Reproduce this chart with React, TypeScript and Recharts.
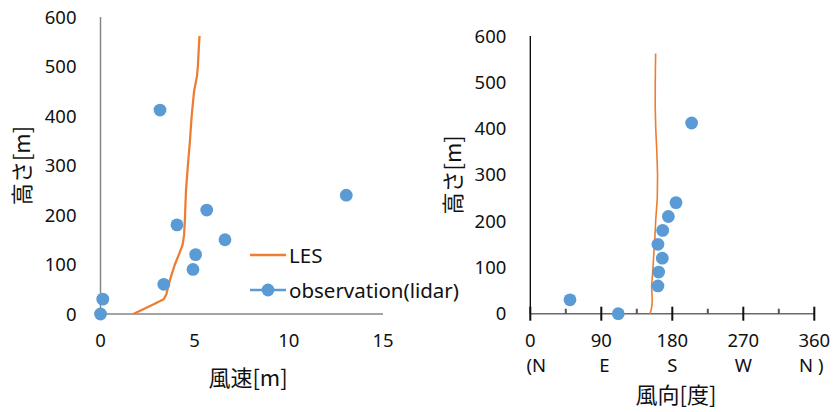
import { ScatterChart, Scatter, XAxis, YAxis, Legend } from "recharts"

const FONT = "'Noto Sans', 'Noto Sans CJK JP', sans-serif"
const JP_FONT = "'Noto Sans CJK JP', 'Noto Sans', sans-serif"
const ORANGE = "#ED7D31"
const BLUE = "#5B9BD5"

// LES profile (model output)
const lesHeight = [0, 10, 20, 30, 40, 60, 80, 100, 120, 140, 160, 200, 250, 300, 350, 400, 450, 480, 500, 530, 562]
const lesSpeed = [1.74, 2.3, 2.85, 3.36, 3.5, 3.62, 3.78, 3.95, 4.16, 4.36, 4.44, 4.49, 4.54, 4.64, 4.75, 4.84, 4.97, 5.12, 5.17, 5.21, 5.26]
const lesDir = [151.7, 153.5, 154.3, 154.6, 154.3, 153.8, 154.7, 155.6, 156.2, 157, 157.8, 158.9, 161, 161.3, 160.4, 159, 158.3, 158.4, 158.4, 158.6, 158.9]

// lidar observation
const obsHeight = [0, 30, 60, 90, 120, 150, 180, 210, 240, 412]
const obsSpeed = [0, 0.12, 3.36, 4.91, 5.05, 6.61, 4.06, 5.64, 13.05, 3.16]
const obsDir = [111.5, 50.3, 161.8, 162.7, 167.3, 161.8, 167.8, 175, 184.7, 204.5]

const heightTicks = [0, 100, 200, 300, 400, 500, 600]
const speedTicks = [0, 5, 10, 15]
const dirTicks = [0, 45, 90, 135, 180, 225, 270, 315, 360]
const dirNames: Record<number, string> = { 0: "(N", 90: "E", 180: "S", 270: "W", 360: "N )" }

const lesSpeedData = lesHeight.map((h, i) => ({ x: lesSpeed[i], y: h }))
const obsSpeedData = obsHeight.map((h, i) => ({ x: obsSpeed[i], y: h }))
const lesDirData = lesHeight.map((h, i) => ({ x: lesDir[i], y: h }))
const obsDirData = obsHeight.map((h, i) => ({ x: obsDir[i], y: h }))

const tickStyle = { fontSize: 18.5, fill: "#111", fontFamily: FONT }

const dot = (p: any) => <circle cx={p.cx} cy={p.cy} r={6.4} fill={BLUE} />
const noDot = () => <g />

const yTitle = (x: number) => (props: any) => {
  const vb = props.viewBox
  const cy = vb.y + vb.height / 2
  return (
    <text x={x} y={cy} transform={`rotate(-90 ${x} ${cy})`} textAnchor="middle" dy={8}
      fontSize={22} fontFamily={JP_FONT} fill="#111">高さ[m]</text>
  )
}

const xTitle = (text: string, x: number, y: number) => () => (
  <text x={x} y={y} textAnchor="middle" dy={8} fontSize={22} fontFamily={JP_FONT} fill="#111">{text}</text>
)

// major ticks cross the axis, minor ones sit above it; two label rows under the majors
function DirTick(props: any) {
  const x = Number(props.x)
  const axisY = Number(props.y)
  const v = props.payload.value
  if (v % 90 !== 0) {
    return <rect x={x - 1} y={axisY - 5} width={2} height={5} fill="#555" />
  }
  const shift = v === 0 ? 6 : v === 360 ? -3 : v === 90 ? 3 : 0
  return (
    <g>
      <rect x={x - 1} y={axisY - 7} width={2} height={14} fill="#111" />
      <text x={x} y={axisY + 33} textAnchor="middle" style={tickStyle}>{v}</text>
      <text x={x + shift} y={axisY + 58} textAnchor="middle" style={tickStyle}>{dirNames[v]}</text>
    </g>
  )
}

function LegendBox() {
  return (
    <svg width={220} height={60} style={{ overflow: "visible" }}>
      <line x1={0} x2={36} y1={15} y2={15} stroke={ORANGE} strokeWidth={2.5} />
      <text x={39} y={15} dy={7.5} fontSize={20.5} fontFamily={FONT} fill="#111">LES</text>
      <line x1={0} x2={36} y1={50} y2={50} stroke={BLUE} strokeWidth={2.5} />
      <circle cx={18} cy={50} r={6.4} fill={BLUE} />
      <text x={39} y={50} dy={7.5} fontSize={20.5} fontFamily={FONT} fill="#111">observation(lidar)</text>
    </svg>
  )
}

export default function App() {
  return (
    <div style={{ position: "relative", width: 833, height: 412, background: "#fff" }}>
      <style>{"body{margin:0}"}</style>
      <div style={{ position: "absolute", left: 0, top: 0 }}>
        <ScatterChart width={470} height={412} margin={{ top: 17, right: 87, bottom: 58, left: 40.5 }}>
          <XAxis type="number" dataKey="x" domain={[0, 15]} ticks={speedTicks} height={40}
            axisLine={{ stroke: "#868686", strokeWidth: 1.5 }} tickLine={false} tickSize={0} tickMargin={20}
            tick={tickStyle} label={xTitle("風速[m]", 248, 378)} />
          <YAxis type="number" dataKey="y" domain={[0, 600]} ticks={heightTicks} width={60}
            axisLine={{ stroke: "#868686", strokeWidth: 1.5 }} tickLine={false} tickSize={0} tickMargin={24}
            tick={tickStyle} label={yTitle(22)} />
          <Legend layout="vertical" align="center" verticalAlign="middle" content={() => <LegendBox />}
            wrapperStyle={{ position: "absolute", left: 250, top: 240, width: 220, height: 60 }} />
          <Scatter name="LES" data={lesSpeedData} line={{ stroke: ORANGE, strokeWidth: 2.25 }} shape={noDot}
            isAnimationActive={false} />
          <Scatter name="observation(lidar)" data={obsSpeedData} shape={dot} fill={BLUE} isAnimationActive={false} />
        </ScatterChart>
      </div>
      <div style={{ position: "absolute", left: 420, top: 0 }}>
        <ScatterChart width={413} height={412} margin={{ top: 36, right: 18.7, bottom: 38.3, left: 50.3 }}>
          <XAxis type="number" dataKey="x" domain={[0, 360]} ticks={dirTicks} height={60} interval={0}
            axisLine={{ stroke: "#6a6a6a", strokeWidth: 1.5 }} tickLine={false}
            tickSize={0} tickMargin={0} tick={<DirTick />} label={xTitle("風向[度]", 256, 395)} />
          <YAxis type="number" dataKey="y" domain={[0, 600]} ticks={heightTicks} width={60}
            axisLine={{ stroke: "#000", strokeWidth: 1.3 }} tickLine={false} tickSize={0} tickMargin={24}
            tick={tickStyle} label={yTitle(33)} />
          <Scatter name="LES" data={lesDirData} line={{ stroke: ORANGE, strokeWidth: 1.6 }} shape={noDot}
            isAnimationActive={false} />
          <Scatter name="observation(lidar)" data={obsDirData} shape={dot} fill={BLUE} isAnimationActive={false} />
        </ScatterChart>
      </div>
    </div>
  )
}
